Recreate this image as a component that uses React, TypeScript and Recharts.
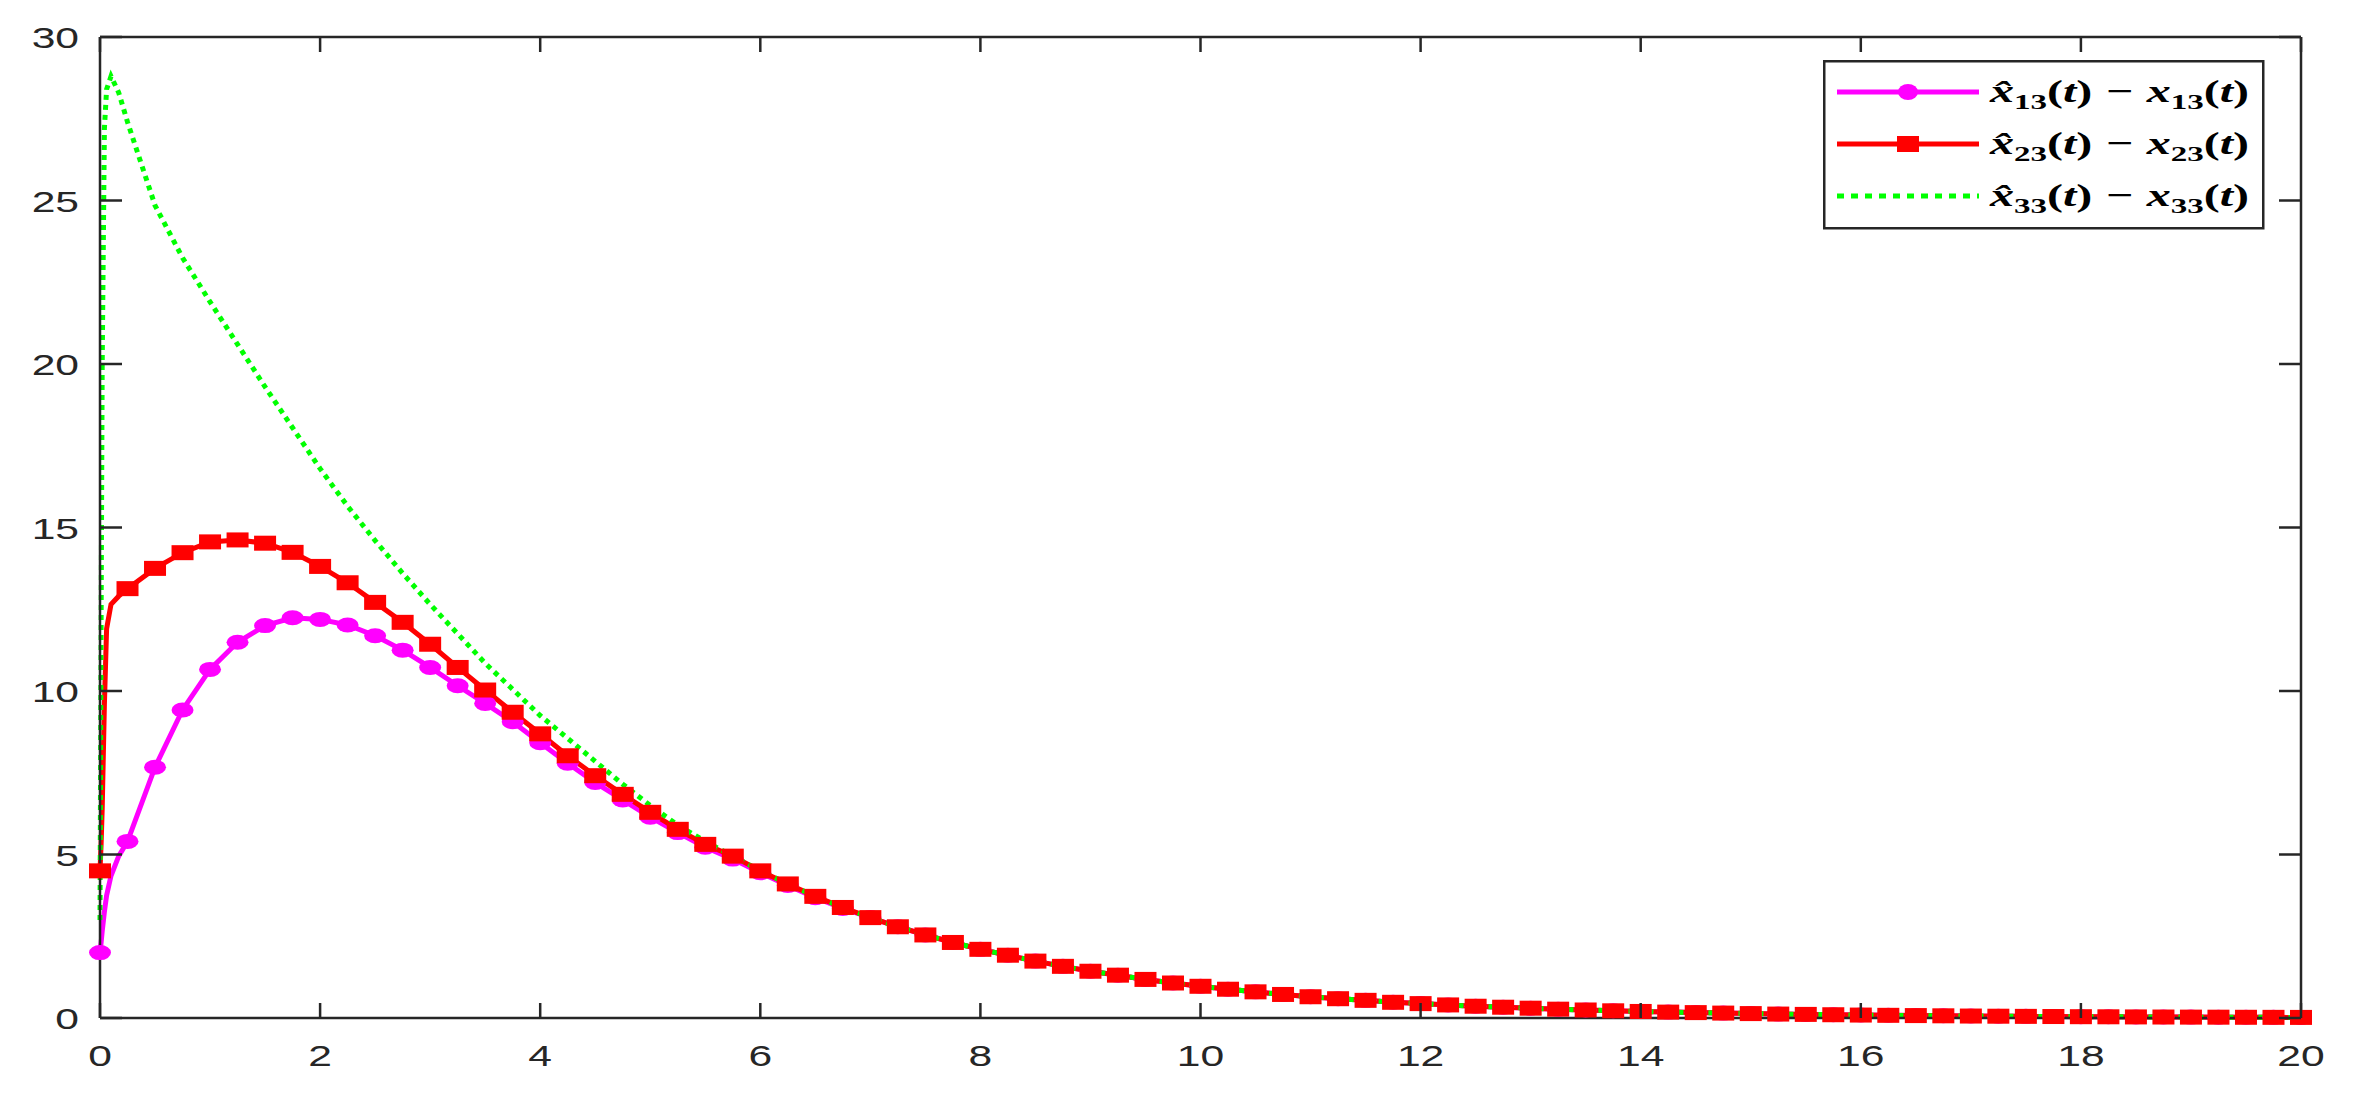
import React from 'react'
import { LineChart, Line, XAxis, YAxis, Legend } from 'recharts'

if (typeof document !== 'undefined') document.body.style.margin = '0'

// time samples: a few dense ones at the start, then every 0.25
const T_HEAD = [0, 0.01, 0.02, 0.04, 0.06, 0.1, 0.17,
  0.25, 0.5, 0.75, 1, 1.25, 1.5, 1.75, 2, 2.25, 2.5, 2.75, 3, 3.25, 3.5, 3.75, 4,
  4.25, 4.5, 4.75, 5, 5.25, 5.5, 5.75, 6, 6.25, 6.5, 6.75]
const T_TAIL = [7, 7.25, 7.5, 7.75, 8, 8.25, 8.5, 8.75, 9, 9.25, 9.5, 9.75, 10,
  10.25, 10.5, 10.75, 11, 11.25, 11.5, 11.75, 12, 12.25, 12.5, 12.75, 13, 13.25,
  13.5, 13.75, 14, 14.25, 14.5, 14.75, 15, 15.25, 15.5, 15.75, 16, 16.25, 16.5,
  16.75, 17, 17.25, 17.5, 17.75, 18, 18.25, 18.5, 18.75, 19, 19.25, 19.5, 19.75, 20]

const X13_HEAD = [2.0, 2.3, 2.65, 3.25, 3.75, 4.35, 4.95,
  5.4, 7.67, 9.42, 10.66, 11.49, 12.0, 12.24, 12.19, 12.02, 11.69, 11.25, 10.72,
  10.16, 9.62, 9.06, 8.42, 7.79, 7.2, 6.67, 6.14, 5.67, 5.22, 4.86, 4.44, 4.05, 3.68, 3.35]
const X23_HEAD = [4.5, 5.3, 6.4, 9.6, 11.9, 12.65, 12.9,
  13.13, 13.75, 14.23, 14.56, 14.62, 14.52, 14.24, 13.81, 13.31, 12.71, 12.1, 11.43,
  10.72, 10.03, 9.35, 8.69, 8.02, 7.41, 6.84, 6.29, 5.77, 5.31, 4.95, 4.5, 4.1, 3.72, 3.38]
const X33_HEAD = [3.0, 12, 20, 27.2, 28.4, 28.8, 28.3,
  27.4, 24.85, 23.25, 21.9, 20.6, 19.3, 18.05, 16.8, 15.65, 14.6, 13.6, 12.65,
  11.75, 10.85, 10.05, 9.25, 8.55, 7.85, 7.15, 6.5, 5.9, 5.4, 4.95, 4.5, 4.1, 3.72, 3.38]

// after t = 7 the three errors sit on top of each other
const TAIL = [3.07, 2.79, 2.54, 2.31, 2.10, 1.92, 1.74, 1.58, 1.43, 1.31, 1.18, 1.07,
  0.97, 0.88, 0.80, 0.72, 0.65, 0.59, 0.54, 0.48, 0.44, 0.40, 0.36, 0.33, 0.30, 0.27,
  0.245, 0.22, 0.20, 0.18, 0.165, 0.15, 0.135, 0.12, 0.11, 0.10, 0.09, 0.082, 0.074,
  0.067, 0.06, 0.055, 0.05, 0.045, 0.04, 0.037, 0.033, 0.03, 0.027, 0.025, 0.022, 0.02, 0.018]

const X_TICKS = [0, 2, 4, 6, 8, 10, 12, 14, 16, 18, 20]
const Y_TICKS = [0, 5, 10, 15, 20, 25, 30]

const AXIS = '#262626'
const SX = 1.42 // the figure is stretched sideways

const T = [...T_HEAD, ...T_TAIL]
const x13 = [...X13_HEAD, ...TAIL]
const x23 = [...X23_HEAD, ...TAIL]
const x33 = [...X33_HEAD, ...TAIL]

const data = T.map((t, i) => ({
  t,
  mark: Number.isInteger(t * 4),
  x13: x13[i],
  x23: x23[i],
  x33: x33[i],
}))

// label + inward tick mark (MATLAB style)
const XTick = (p: any) => (
  <g>
    <line x1={p.x} x2={p.x} y1={p.y} y2={p.y - 15} stroke={AXIS} strokeWidth={2.5} />
    <text transform={`translate(${p.x},${p.y + 48}) scale(${SX},1)`} textAnchor="middle"
      fontFamily="'Liberation Sans', Arial, sans-serif" fontSize={30} fill={AXIS}>
      {p.payload.value}
    </text>
  </g>
)

const YTick = (p: any) => (
  <g>
    <line x1={p.x + 21} x2={p.x + 43} y1={p.y} y2={p.y} stroke={AXIS} strokeWidth={2.5} />
    <text transform={`translate(${p.x},${p.y + 11}) scale(${SX},1)`} textAnchor="end"
      fontFamily="'Liberation Sans', Arial, sans-serif" fontSize={30} fill={AXIS}>
      {p.payload.value}
    </text>
  </g>
)

// top / right box sides: only the tick marks
const TopTick = (p: any) => <line x1={p.x} x2={p.x} y1={p.y} y2={p.y + 15} stroke={AXIS} strokeWidth={2.5} />
const RightTick = (p: any) => <line x1={p.x} x2={p.x - 22} y1={p.y} y2={p.y} stroke={AXIS} strokeWidth={2.5} />

const circleDot = (p: any) => p.payload.mark
  ? <ellipse key={p.key ?? p.index} cx={p.cx} cy={p.cy} rx={11} ry={7.5} fill="#FF00FF" />
  : <g key={p.key ?? p.index} />

const squareDot = (p: any) => p.payload.mark
  ? <rect key={p.key ?? p.index} x={p.cx - 11} y={p.cy - 7.5} width={22} height={15} fill="#FF0000" />
  : <g key={p.key ?? p.index} />

const Label = ({ idx }: { idx: string }) => (
  <>
    <tspan fontStyle="italic">x&#770;</tspan>
    <tspan fontSize={22} dy={7}>{idx}</tspan>
    <tspan dy={-7}>(</tspan><tspan fontStyle="italic">t</tspan><tspan>)</tspan>
    <tspan dx={9}>−</tspan>
    <tspan dx={9} fontStyle="italic">x</tspan>
    <tspan fontSize={22} dy={7}>{idx}</tspan>
    <tspan dy={-7}>(</tspan><tspan fontStyle="italic">t</tspan><tspan>)</tspan>
  </>
)

const LEGEND_ROWS = [
  { key: 'x13', idx: '13', color: '#FF00FF', marker: 'circle' },
  { key: 'x23', idx: '23', color: '#FF0000', marker: 'square' },
  { key: 'x33', idx: '33', color: '#00FF00', marker: 'none' },
]

const LegendBox = () => (
  <svg width={442} height={170} style={{ display: 'block' }}>
    <rect x={1.25} y={1.25} width={439} height={167} fill="#fff" stroke={AXIS} strokeWidth={2.5} />
    {LEGEND_ROWS.map((r, i) => {
      const y = 32 + i * 52
      return (
        <g key={r.key}>
          <line x1={14} x2={156} y1={y} y2={y} stroke={r.color} strokeWidth={5}
            strokeDasharray={r.marker === 'none' ? '7 7' : undefined} />
          {r.marker === 'circle' && <ellipse cx={85} cy={y} rx={10} ry={8} fill={r.color} />}
          {r.marker === 'square' && <rect x={74} y={y - 8} width={22} height={16} fill={r.color} />}
          <text transform={`translate(167,${y + 10}) scale(1.5,1)`} fontFamily="'Liberation Serif', 'DejaVu Serif', serif"
            fontWeight="bold" fontSize={32} fill="#000">
            <Label idx={r.idx} />
          </text>
        </g>
      )
    })}
  </svg>
)

export default function App() {
  return (
    <LineChart width={2356} height={1099} data={data} margin={{ top: 37, right: 55, bottom: 51, left: 40 }}>
      <XAxis xAxisId="x" dataKey="t" type="number" domain={[0, 20]} ticks={X_TICKS} interval={0}
        axisLine={{ stroke: AXIS, strokeWidth: 2.5 }} tickLine={false} tickSize={0} tickMargin={0} tick={XTick} />
      <XAxis xAxisId="xt" dataKey="t" type="number" orientation="top" domain={[0, 20]} ticks={X_TICKS} interval={0} mirror
        axisLine={{ stroke: AXIS, strokeWidth: 2.5 }} tickLine={false} tickSize={0} tickMargin={0} tick={TopTick} />
      <YAxis yAxisId="y" type="number" domain={[0, 30]} ticks={Y_TICKS} interval={0}
        axisLine={{ stroke: AXIS, strokeWidth: 2.5 }} tickLine={false} tickSize={0} tickMargin={21} tick={YTick} />
      <YAxis yAxisId="yr" type="number" orientation="right" domain={[0, 30]} ticks={Y_TICKS} interval={0} mirror
        axisLine={{ stroke: AXIS, strokeWidth: 2.5 }} tickLine={false} tickSize={0} tickMargin={0} tick={RightTick} />

      {/* carries the data for the top/right box axes, draws nothing */}
      <Line xAxisId="xt" yAxisId="yr" dataKey="x13" stroke="none" dot={false} activeDot={false}
        legendType="none" isAnimationActive={false} />

      <Line xAxisId="x" yAxisId="y" dataKey="x13" type="linear" stroke="#FF00FF" strokeWidth={5}
        dot={circleDot} activeDot={false} isAnimationActive={false} />
      <Line xAxisId="x" yAxisId="y" dataKey="x23" type="linear" stroke="#FF0000" strokeWidth={5}
        dot={squareDot} activeDot={false} isAnimationActive={false} />
      <Line xAxisId="x" yAxisId="y" dataKey="x33" type="linear" stroke="#00FF00" strokeWidth={5}
        strokeDasharray="5 5" dot={false} activeDot={false} isAnimationActive={false} />

      <Legend layout="vertical" align="center" verticalAlign="middle" content={LegendBox}
        wrapperStyle={{ position: 'absolute', left: 1823, top: 60, width: 442 }} />
    </LineChart>
  )
}
